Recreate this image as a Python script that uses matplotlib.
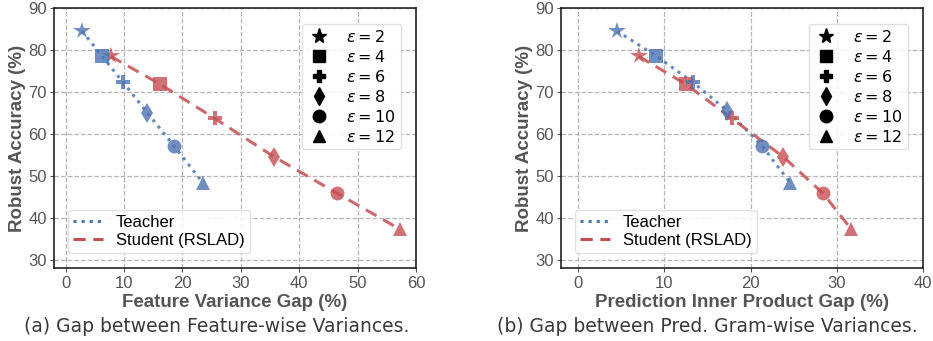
import matplotlib
matplotlib.use("Agg")
import matplotlib.pyplot as plt
from matplotlib.lines import Line2D

eps_labels = [2, 4, 6, 8, 10, 12]
markers = ["*", "s", "P", "d", "o", "^"]

# Panel (a): Feature Variance Gap
a_teacher_x = [2.8, 6.2, 9.8, 14.0, 18.5, 23.5]
a_teacher_y = [84.5, 78.6, 72.3, 65.0, 57.2, 48.3]
a_student_x = [7.7, 16.2, 25.5, 35.7, 46.5, 57.3]
a_student_y = [78.5, 71.8, 63.7, 54.5, 45.8, 37.2]

# Panel (b): Prediction Inner Product Gap
b_teacher_x = [4.5, 9.0, 13.3, 17.3, 21.3, 24.6]
b_teacher_y = [84.5, 78.6, 72.3, 65.5, 57.2, 48.3]
b_student_x = [7.0, 12.5, 17.8, 23.8, 28.4, 31.7]
b_student_y = [78.5, 71.8, 63.7, 54.5, 45.8, 37.2]

xlabels = ["Feature Variance Gap (%)", "Prediction Inner Product Gap (%)"]
captions = ["(a) Gap between Feature-wise Variances.",
            "(b) Gap between Pred. Gram-wise Variances."]
xmax = [60, 40]

blue = "#4C72B0"
red = "#C44E52"
gray = "#555555"

plt.rcParams['font.family'] = ['Liberation Sans', 'DejaVu Sans']
plt.rcParams['mathtext.fontset'] = 'dejavusans'
fig = plt.figure(figsize=(9.33, 3.41), dpi=100)
axes = [fig.add_axes([54/933, 1-268/341, 362/933, 260/341]),
        fig.add_axes([561/933, 1-268/341, 362/933, 260/341])]

data = [(a_teacher_x, a_teacher_y, a_student_x, a_student_y),
        (b_teacher_x, b_teacher_y, b_student_x, b_student_y)]

for i, ax in enumerate(axes):
    tx, ty, sx, sy = data[i]
    ax.plot(tx, ty, linestyle=':', color=blue, lw=2.2, alpha=0.85, zorder=3)
    ax.plot(sx, sy, linestyle='--', color=red, lw=2.2, alpha=0.85, zorder=3, dashes=(4, 2.5))
    for j in range(len(markers)):
        ms = 13 if markers[j] == '*' else 10
        ax.plot(tx[j], ty[j], marker=markers[j], color=blue, ms=ms, alpha=0.8,
                linestyle='none', zorder=4, markeredgewidth=0)
        ax.plot(sx[j], sy[j], marker=markers[j], color=red, ms=ms, alpha=0.8,
                linestyle='none', zorder=4, markeredgewidth=0)
    ax.set_xlim(-2, xmax[i])
    ax.set_ylim(28, 90)
    ax.set_yticks(range(30, 91, 10))
    ax.set_xticks(range(0, xmax[i] + 1, 10))
    ax.grid(True, linestyle='--', color='#b5b5b5', lw=0.9)
    ax.set_axisbelow(True)
    for s in ax.spines.values():
        s.set_color('#222222')
        s.set_linewidth(1.2)
    ax.tick_params(colors=gray, labelsize=12, length=3, width=0.8, pad=2)
    ax.tick_params(axis='x', pad=3)
    ax.set_xlabel(xlabels[i], fontsize=13.5, fontweight='bold', color=gray, labelpad=2)
    ax.set_ylabel("Robust Accuracy (%)", fontsize=13.5, fontweight='bold', color=gray, labelpad=2)

    mh = [Line2D([], [], marker=m, color='black', linestyle='none',
                 ms=(11 if m == '*' else 9)) for m in markers]
    leg1 = ax.legend(mh, [r"$\varepsilon = %d$" % e for e in eps_labels],
                     loc='upper right', fontsize=11.5, handletextpad=0.9,
                     handlelength=1.6,
                     labelspacing=0.25, borderpad=0.3, framealpha=0.9,
                     edgecolor='#dddddd', bbox_to_anchor=(0.98, 0.97))
    ax.add_artist(leg1)
    lh = [Line2D([], [], linestyle=':', color=blue, lw=2.2),
          Line2D([], [], linestyle='--', color=red, lw=2.2, dashes=(4, 2.5))]
    ax.legend(lh, ["Teacher", "Student (RSLAD)"], loc='lower left', fontsize=12,
              handlelength=1.8, handletextpad=0.8, labelspacing=0.2,
              borderpad=0.3, framealpha=0.9, edgecolor='#dddddd',
              bbox_to_anchor=(0.015, 0.025))

fig.text(27/933 + 190/933, 1-327/341, captions[0], fontsize=13.5, color='#3a3a3a',
         ha='center', va='center', family=['DejaVu Sans'])
fig.text(517/933 + 190/933, 1-327/341, captions[1], fontsize=13.5, color='#3a3a3a',
         ha='center', va='center', family=['DejaVu Sans'])

fig.savefig("out.png", dpi=100)
